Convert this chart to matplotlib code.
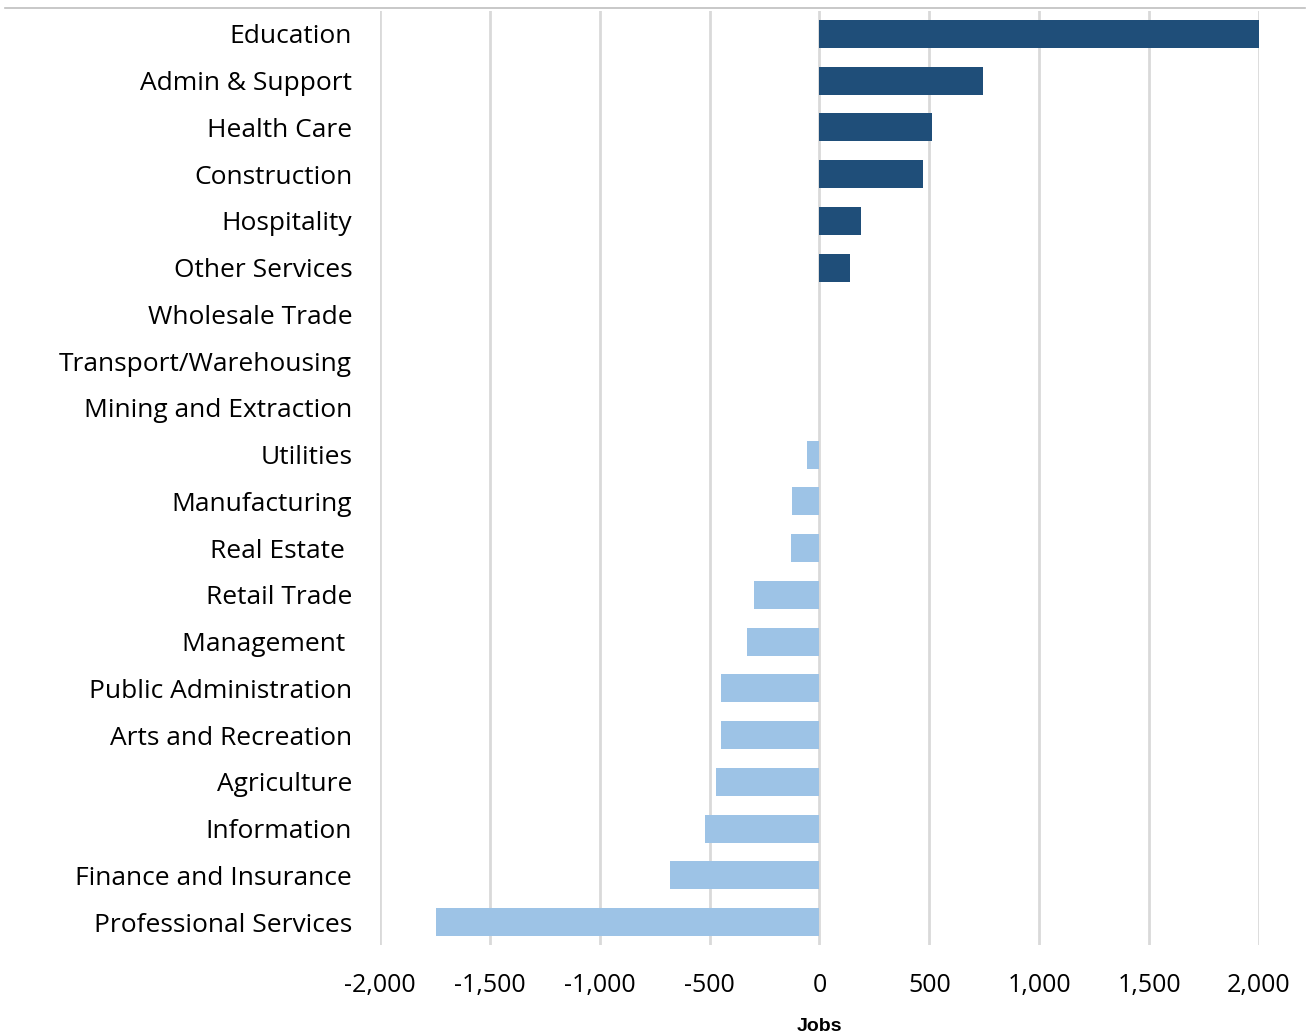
import matplotlib
matplotlib.use("Agg")
import matplotlib.pyplot as plt
from matplotlib.lines import Line2D

# ── data ──────────────────────────────────────────────────────────────────────
industries = [
    "Education", "Admin & Support", "Health Care", "Construction", "Hospitality",
    "Other Services", "Wholesale Trade", "Transport/Warehousing",
    "Mining and Extraction", "Utilities", "Manufacturing", "Real Estate ",
    "Retail Trade", "Management ", "Public Administration", "Arts and Recreation",
    "Agriculture", "Information", "Finance and Insurance", "Professional Services",
]
jobs = [2003, 742, 510, 473, 191, 141, 0, 0, 0, -55, -123, -128,
        -300, -328, -446, -446, -473, -519, -682, -1747]
x_ticks = [-2000, -1500, -1000, -500, 0, 500, 1000, 1500, 2000]

DARK = "#1F4E79"
LIGHT = "#9DC3E6"

# ── plot ──────────────────────────────────────────────────────────────────────
fig = plt.figure(figsize=(13.12, 10.32), dpi=100)
ax = fig.add_axes([0.2896, 0.0839, 0.6700, 0.9058])

ypos = list(range(len(industries)))
colors = [DARK if v > 0 else LIGHT for v in jobs]
ax.barh(ypos, jobs, height=0.6, color=colors, zorder=3)

ax.set_ylim(len(industries) - 0.5, -0.5)
ax.set_xlim(-2000, 2000)
ax.set_yticks(ypos)
ax.set_yticklabels(industries, fontsize=19, family=["Open Sans", "DejaVu Sans"])
ax.set_xticks(x_ticks)
ax.set_xticklabels([f"{t:,}" for t in x_ticks], fontsize=18,
                   family=["Open Sans", "DejaVu Sans"])
ax.tick_params(axis="y", length=0, pad=20)
ax.tick_params(axis="x", length=0, pad=20)
ax.set_xlabel("Jobs", fontsize=14, fontweight="bold",
              family=["Liberation Sans", "DejaVu Sans"], labelpad=14)

ax.grid(True, axis="x", color="#D9D9D9", linewidth=2, zorder=0)
for s in ax.spines.values():
    s.set_visible(False)

# thin rule across the top of the figure
fig.add_artist(Line2D([0.004, 0.995], [0.992, 0.992], color="#BFBFBF",
                      linewidth=1.2, transform=fig.transFigure))

plt.savefig("out.png", dpi=100)
plt.close()
